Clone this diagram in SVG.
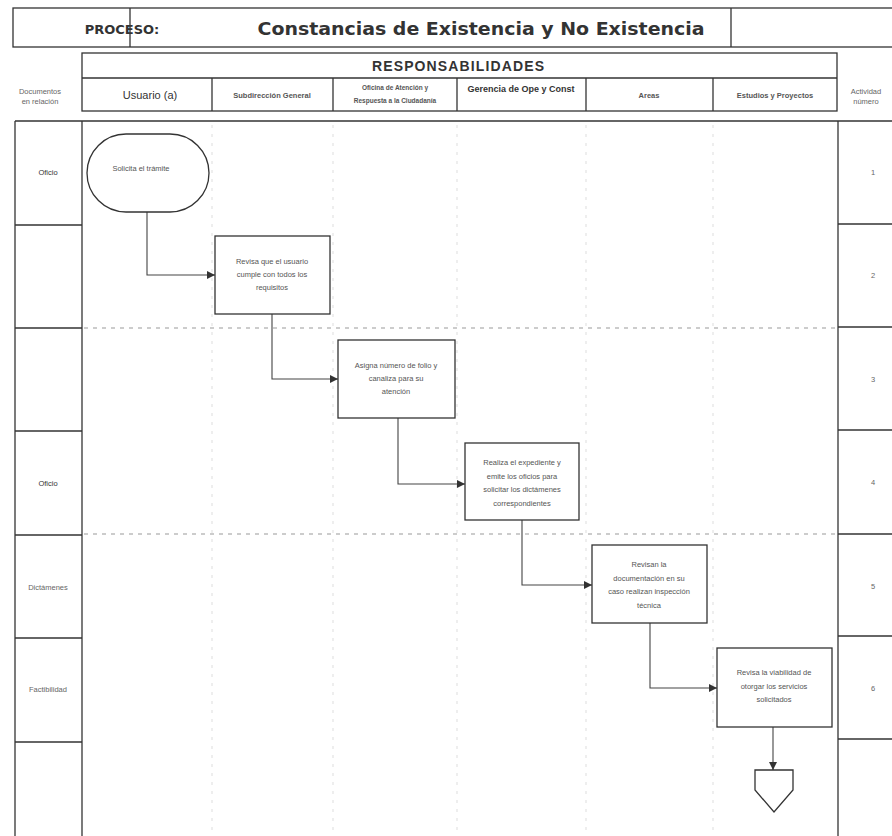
<svg xmlns="http://www.w3.org/2000/svg" width="892" height="836" viewBox="0 0 892 836">
<defs>
<style>
.ln{fill:none;stroke:#333;stroke-width:1.3}
.box{fill:#fff;stroke:#333;stroke-width:1.3}
.dash{fill:none;stroke:#999;stroke-width:1;stroke-dasharray:4 5}
.vdash{fill:none;stroke:#ddd;stroke-width:1;stroke-dasharray:3 6}
.conn{fill:none;stroke:#444;stroke-width:1.1;marker-end:url(#arr)}
.nt{font-family:"Liberation Sans",Arial,sans-serif;font-size:7.5px;fill:#555;text-anchor:middle}
.lab{font-family:"Liberation Sans",Arial,sans-serif;font-size:7.5px;fill:#666;text-anchor:middle}
.hd{font-family:"Liberation Sans",Arial,sans-serif;fill:#333;text-anchor:middle}
</style>
<marker id="arr" viewBox="0 0 10 10" refX="10" refY="5" markerWidth="8" markerHeight="8" markerUnits="userSpaceOnUse" orient="auto">
<path d="M0,0 L10,5 L0,10 z" fill="#333"/>
</marker>
</defs>
<rect width="892" height="836" fill="#fff"/>

<g id="header">
<rect x="13" y="8" width="890" height="39" class="ln"/>
<line x1="130" y1="8" x2="130" y2="47" class="ln"/>
<line x1="731" y1="8" x2="731" y2="47" class="ln"/>
<text x="122" y="34" class="hd" font-family="DejaVu Sans" font-weight="bold" font-size="13" style="font-family:'DejaVu Sans',sans-serif">PROCESO:</text>
<text x="481" y="35" class="hd" style="font-family:'DejaVu Sans',sans-serif;font-weight:bold;font-size:18px" textLength="447" lengthAdjust="spacingAndGlyphs">Constancias de Existencia y No Existencia</text>
</g>

<g id="responsabilidades">
<rect x="82" y="53" width="755" height="58" class="ln"/>
<line x1="82" y1="78" x2="837" y2="78" class="ln"/>
<text x="458" y="71" class="hd" style="font-weight:bold;font-size:14px" textLength="172" lengthAdjust="spacing">RESPONSABILIDADES</text>
<line x1="212" y1="78" x2="212" y2="111" class="ln"/>
<line x1="333" y1="78" x2="333" y2="111" class="ln"/>
<line x1="457" y1="78" x2="457" y2="111" class="ln"/>
<line x1="586" y1="78" x2="586" y2="111" class="ln"/>
<line x1="713" y1="78" x2="713" y2="111" class="ln"/>
<text x="150" y="99" class="hd" style="font-size:11px">Usuario  (a)</text>
<text x="272" y="98" class="hd" style="font-size:7.5px;font-weight:bold;fill:#555">Subdirección General</text>
<text x="395" y="90" class="hd" style="font-size:6.5px;font-weight:bold;fill:#555">Oficina de Atención y</text>
<text x="395" y="103" class="hd" style="font-size:6.5px;font-weight:bold;fill:#555">Respuesta a la Ciudadanía</text>
<text x="521" y="92" class="hd" style="font-size:9px;font-weight:bold">Gerencia de Ope y Const</text>
<text x="649" y="98" class="hd" style="font-size:7.5px;font-weight:bold;fill:#555">Areas</text>
<text x="775" y="98" class="hd" style="font-size:7.5px;font-weight:bold;fill:#555">Estudios y Proyectos</text>
<text x="40" y="94" class="lab">Documentos</text>
<text x="40" y="104" class="lab">en relación</text>
<text x="866" y="94" class="lab">Actividad</text>
<text x="866" y="104" class="lab">número</text>
</g>

<g id="grid">
<line x1="15" y1="121" x2="892" y2="121" class="ln"/>
<line x1="15" y1="121" x2="15" y2="836" class="ln"/>
<line x1="82" y1="121" x2="82" y2="836" class="ln"/>
<line x1="838" y1="121" x2="838" y2="836" class="ln"/>
<line x1="15" y1="225" x2="82" y2="225" class="ln"/>
<line x1="15" y1="328" x2="82" y2="328" class="ln"/>
<line x1="15" y1="431" x2="82" y2="431" class="ln"/>
<line x1="15" y1="535" x2="82" y2="535" class="ln"/>
<line x1="15" y1="638" x2="82" y2="638" class="ln"/>
<line x1="15" y1="742" x2="82" y2="742" class="ln"/>
<line x1="838" y1="224" x2="892" y2="224" class="ln"/>
<line x1="838" y1="327" x2="892" y2="327" class="ln"/>
<line x1="838" y1="430" x2="892" y2="430" class="ln"/>
<line x1="838" y1="534" x2="892" y2="534" class="ln"/>
<line x1="838" y1="636" x2="892" y2="636" class="ln"/>
<line x1="838" y1="739" x2="892" y2="739" class="ln"/>
<line x1="84" y1="328" x2="836" y2="328" class="dash"/>
<line x1="84" y1="534" x2="836" y2="534" class="dash"/>
<line x1="212" y1="125" x2="212" y2="836" class="vdash"/>
<line x1="333" y1="125" x2="333" y2="836" class="vdash"/>
<line x1="457" y1="125" x2="457" y2="836" class="vdash"/>
<line x1="586" y1="125" x2="586" y2="836" class="vdash"/>
<line x1="713" y1="125" x2="713" y2="836" class="vdash"/>
<text x="48" y="175" class="lab" style="fill:#333">Oficio</text>
<text x="48" y="486" class="lab" style="fill:#333">Oficio</text>
<text x="48" y="590" class="lab">Dictámenes</text>
<text x="48" y="692" class="lab">Factibilidad</text>
<text x="873" y="175" class="lab">1</text>
<text x="873" y="278" class="lab">2</text>
<text x="873" y="382" class="lab">3</text>
<text x="873" y="485" class="lab">4</text>
<text x="873" y="589" class="lab">5</text>
<text x="873" y="691" class="lab">6</text>
</g>

<g id="connectors">
<polyline points="147,212 147,275 215,275" class="conn"/>
<polyline points="272,314 272,379 338,379" class="conn"/>
<polyline points="398,418 398,484 465,484" class="conn"/>
<polyline points="522,520 522,585 592,585" class="conn"/>
<polyline points="650,623 650,688 717,688" class="conn"/>
<polyline points="773,727 773,770" class="conn"/>
</g>

<g id="n1">
<rect x="87" y="134" width="122" height="78" rx="39" ry="39" class="box"/>
<text x="141" y="171" class="nt">Solicita el trámite</text>
</g>
<g id="n2">
<rect x="215" y="236" width="115" height="78" class="box"/>
<text x="272" y="264" class="nt">Revisa que el usuario</text>
<text x="272" y="277" class="nt">cumple con todos los</text>
<text x="272" y="290" class="nt">requisitos</text>
</g>
<g id="n3">
<rect x="338" y="340" width="117" height="78" class="box"/>
<text x="396" y="368" class="nt">Asigna número de folio y</text>
<text x="396" y="381" class="nt">canaliza para su</text>
<text x="396" y="394" class="nt">atención</text>
</g>
<g id="n4">
<rect x="465" y="443" width="114" height="77" class="box"/>
<text x="522" y="465" class="nt">Realiza el expediente y</text>
<text x="522" y="479" class="nt">emite los oficios para</text>
<text x="522" y="492" class="nt">solicitar los dictámenes</text>
<text x="522" y="506" class="nt">correspondientes</text>
</g>
<g id="n5">
<rect x="592" y="545" width="115" height="78" class="box"/>
<text x="649" y="567" class="nt">Revisan la</text>
<text x="649" y="581" class="nt">documentación en su</text>
<text x="649" y="594" class="nt">caso realizan inspección</text>
<text x="649" y="608" class="nt">técnica</text>
</g>
<g id="n6">
<rect x="717" y="648" width="115" height="79" class="box"/>
<text x="774" y="675" class="nt">Revisa la viabilidad de</text>
<text x="774" y="689" class="nt">otorgar los servicios</text>
<text x="774" y="702" class="nt">solicitados</text>
</g>
<g id="n7">
<polygon points="755,770 793,770 793,790 774,812 755,790" class="box"/>
</g>
</svg>
